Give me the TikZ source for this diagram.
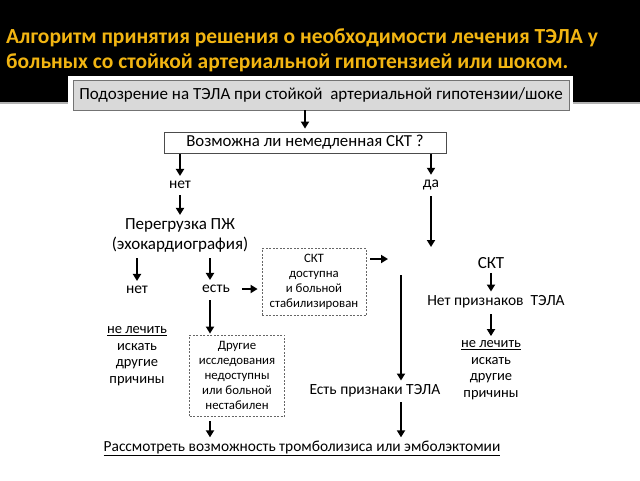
\documentclass[tikz,border=0pt]{standalone}
\usepackage{fontspec}
\setmainfont{Carlito}
\usetikzlibrary{positioning,arrows.meta}
\definecolor{titleyellow}{RGB}{242,181,18}
\definecolor{boxgray}{RGB}{217,217,217}

\begin{document}
\begin{tikzpicture}[x=1pt,y=-1pt,
	every node/.style={font=\fontsize{15.5}{17}\selectfont, inner sep=0pt},
	arr/.style={-{Triangle[length=7pt,width=8pt]}, line width=2pt},
	lbl/.style={align=center},
	dbox/.style={draw=black!60, dash pattern=on 2pt off 1.5pt, line width=0.8pt,
		align=center, font=\fontsize{12.8}{15}\selectfont}
	]

	% Background
	\useasboundingbox (0,0) rectangle (640,480);
	\fill[black] (0,0) rectangle (640,102);
	\fill[black!30] (0,102) rectangle (640,104);

	% Title
	\node[anchor=base west, text=titleyellow, font=\fontsize{21.5}{25}\selectfont\bfseries] (title1) at (6,43)
		{Алгоритм принятия решения о необходимости лечения ТЭЛА у};
	\node[anchor=base west, text=titleyellow, font=\fontsize{21.5}{25}\selectfont\bfseries] (title2) at (6,68)
		{больных со стойкой артериальной гипотензией или шоком.};

	% Top boxes
	\fill[white] (68,76) rectangle (573,114);
	\node[draw=black!55, fill=boxgray, line width=0.8pt, minimum width=496, minimum height=30,
		font=\fontsize{17}{19}\selectfont] (susp) at (321,95)
		{Подозрение на ТЭЛА при стойкой\ \ артериальной гипотензии/шоке};
	\node[draw=black!70, fill=white, line width=0.8pt, minimum width=282, minimum height=21,
		font=\fontsize{16.8}{19}\selectfont] (q) at (305,142.5)
		{Возможна ли немедленная СКТ ?};

	% Left branch
	\node (net1) at (180,185) {нет};
	\node[lbl, font=\fontsize{17}{20}\selectfont] (rv) at (180,235) {Перегрузка ПЖ\\(эхокардиография)};
	\node (net2) at (137,290) {нет};
	\node (est) at (216,289) {есть};
	\node[lbl, font=\fontsize{14.5}{16.7}\selectfont] (neL) at (137,356)
		{\underline{не лечить}\\искать\\другие\\причины};
	\node[dbox, minimum width=104, minimum height=67] (skt1) at (314,282)
		{СКТ\\доступна\\и больной\\стабилизирован};
	\node[dbox, minimum width=95, minimum height=81] (oth) at (237,375.5)
		{Другие\\исследования\\недоступны\\или больной\\нестабилен};

	% Right branch
	\node (da) at (431,185) {да};
	\node[font=\fontsize{17}{19}\selectfont] (sktR) at (491,263) {СКТ};
	\node (noT) at (496,302) {Нет признаков\ \ ТЭЛА};
	\node[lbl, font=\fontsize{14.5}{16.7}\selectfont] (neR) at (491,370)
		{\underline{не лечить}\\искать\\другие\\причины};
	\node (yes) at (375,391) {Есть признаки ТЭЛА};
	\node[font=\fontsize{15.4}{17}\selectfont] (cons) at (302,448)
		{\underline{Рассмотреть возможность тромболизиса или эмболэктомии}};

	% Free ends
	\coordinate (toR) at (388,259);
	\coordinate (daEnd) at (431,247);
	\coordinate (yesTop) at (401,275);
	\coordinate (estLine) at (210,300);

	% Connectors
	\draw[arr, shorten >=3pt] (susp.south -| q.north) -- (q.north);
	\draw[arr, shorten <=1pt, shorten >=5pt] (q.south -| net1) -- (net1.north);
	\draw[arr, shorten <=6pt, shorten >=3pt] (net1.south) -- (rv.north);
	\draw[arr, shorten <=6pt, shorten >=5pt] (rv.south -| net2) -- (net2.north);
	\draw[arr, shorten <=6pt, shorten >=5pt] (rv.south -| estLine) -- (estLine |- est.north);
	\draw[arr, shorten <=12pt, shorten >=4pt] (est.east) -- (est.east -| skt1.west);
	\draw[arr, shorten <=4pt] (skt1.east |- toR) -- (toR);
	\draw[arr, shorten >=1pt] (estLine) -- (estLine |- oth.north);
	\draw[arr, shorten <=5pt, shorten >=3pt] (estLine |- oth.south) -- (estLine |- cons.north);

	\draw[arr, shorten <=1pt, shorten >=5pt] (q.south -| da) -- (da.north);
	\draw[arr, shorten <=6pt] (da.south) -- (daEnd);
	\draw[arr, shorten >=4pt] (yesTop) -- (yesTop |- yes.north);
	\draw[arr, shorten <=5pt, shorten >=3pt] (yesTop |- yes.south) -- (yesTop |- cons.north);

	\draw[arr, shorten <=4pt, shorten >=4pt] (sktR.south) -- (sktR.south |- noT.north);
	\draw[arr, shorten <=6pt, shorten >=4pt] (noT.south -| sktR) -- (sktR |- neR.north);

\end{tikzpicture}
\end{document}
